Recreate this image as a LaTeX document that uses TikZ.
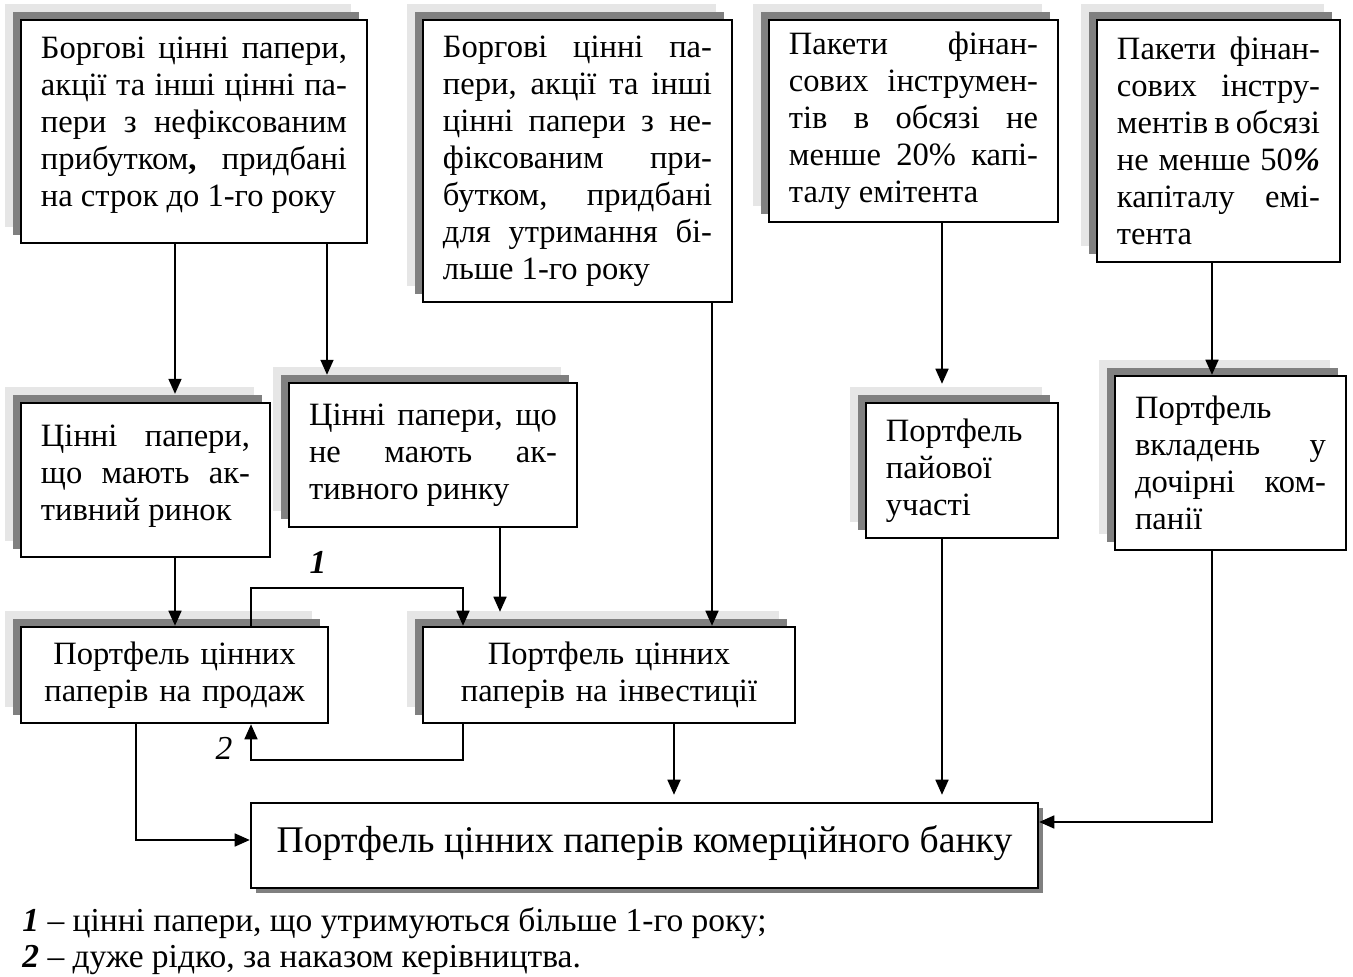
\documentclass[tikz,border=0pt]{standalone}
\usepackage{fontspec}
\setmainfont{Liberation Serif}
\usetikzlibrary{arrows.meta,shadows}
\definecolor{shadelight}{HTML}{E6E6E6}
\definecolor{shadedark}{HTML}{808080}
\tolerance=10000
\hbadness=10000
\tikzset{
  block/.style={draw, line width=1pt, fill=white, inner xsep=8.6pt, inner ysep=0pt,
    font=\fontsize{14}{15.9}\selectfont,
    general shadow={fill=shadelight, shadow xshift=-6.9pt, shadow yshift=6.9pt},
    general shadow={fill=shadedark, shadow xshift=-3.4pt, shadow yshift=3.4pt}},
  mainblock/.style={draw, line width=1pt, fill=white, inner sep=0pt,
    font=\fontsize{16.2}{18}\selectfont, minimum width=338.4pt,
    text height=21.5pt, text depth=15.05pt,
    general shadow={fill=shadedark, shadow xshift=2.15pt, shadow yshift=-2.15pt}},
  arr/.style={line width=1pt, -{Triangle[length=6.5pt,width=5.5pt]}},
  mark label/.style={font=\fontsize{14.4}{16}\selectfont},
  note/.style={anchor=base west, inner sep=0pt, font=\fontsize{14.4}{16}\selectfont}
}
\begin{document}
\begin{tikzpicture}[x=0.43pt, y=-0.43pt]
\useasboundingbox (0,0) rectangle (1353,977);

\node[block, text width=131.6pt, minimum height=95.9pt, align=justify] (debtshort) at (194,131.5)
  {Боргові цінні папери,\linebreak акції та інші цінні па-\linebreak пери з нефіксованим\linebreak прибутком\textbf{,} придбані\linebreak на строк до 1-го року\rule[-8.2pt]{0pt}{0pt}};
\node[block, text width=115.7pt, minimum height=121.3pt, align=justify] (debtlong) at (577.5,161)
  {Боргові цінні па-\linebreak пери, акції та інші\linebreak цінні папери з не-\linebreak фіксованим при-\linebreak бутком, придбані\linebreak для утримання бі-\linebreak льше 1-го року};
\node[block, text width=107.1pt, minimum height=86.9pt, align=justify] (pack20) at (913.5,121)
  {Пакети фінан-\linebreak сових інструмен-\linebreak тів в обсязі не\linebreak менше 20\% капі-\linebreak талу емітента};
\node[block, text width=87.3pt, minimum height=104.1pt, align=justify] (pack50) at (1218.5,141)
  {Пакети фінан-\linebreak сових інстру-\linebreak ментів в обсязі\linebreak не менше 50\textbf{\textit{\%}}\linebreak капіталу емі-\linebreak тента};

\node[block, text width=89.9pt, minimum height=66.2pt, align=justify] (active) at (145.5,480)
  {Цінні папери,\linebreak що мають ак-\linebreak тивний ринок\rule[-6.4pt]{0pt}{0pt}};
\node[block, text width=106.6pt, minimum height=61.9pt, align=justify] (inactive) at (433,455)
  {Цінні папери, що\linebreak не мають ак-\linebreak тивного ринку};
\node[block, text width=65.4pt, minimum height=58.1pt, align=justify] (share) at (962,470.5)
  {Портфель\\пайової\\участі};
\node[block, text width=82.1pt, minimum height=74.8pt, align=justify] (subsid) at (1230.5,463)
  {Портфель\\вкладень у\linebreak дочірні ком-\linebreak панії};

\node[block, text width=114.8pt, minimum height=41.3pt, align=center] (sale) at (174.5,675)
  {Портфель цінних\\паперів на продаж};
\node[block, text width=142.8pt, minimum height=41.3pt, align=center] (invest) at (609,675)
  {Портфель цінних\\паперів на інвестиції};

\node[mainblock] (bank) at (644.5,845.5) {Портфель цінних паперів комерційного банку};

\draw[arr, shorten >=3.4pt] (175,0 |- debtshort.south) -- (175,0 |- active.north);
\draw[arr, shorten >=3pt] (327,0 |- debtshort.south) -- (327,0 |- inactive.north);
\draw[arr] (712,0 |- debtlong.south) -- (712,0 |- invest.north);
\draw[arr, shorten >=7.7pt] (942,0 |- pack20.south) -- (942,0 |- share.north);
\draw[arr] (1212,0 |- pack50.south) -- (1212,0 |- subsid.north);
\draw[arr] (175,0 |- active.south) -- (175,0 |- sale.north);
\draw[arr, shorten >=6pt] (500,0 |- inactive.south) -- (500,0 |- invest.north);

\draw[arr] (251,0 |- sale.north) -- (251,588) -- (463,588) -- (463,0 |- invest.north);
\node[mark label, font=\fontsize{14.4}{16}\selectfont\bfseries\itshape] (one) at (318,562) {1};
\draw[arr] (463,0 |- invest.south) -- (463,760) -- (251,760) -- (251,0 |- sale.south);
\node[mark label, font=\fontsize{14.4}{16}\selectfont\itshape] (two) at (224,748) {2};

\draw[arr] (136,0 |- sale.south) -- (136,840) -- (bank.west |- 0,840);
\draw[arr, shorten >=3pt] (674,0 |- invest.south) -- (674,0 |- bank.north);
\draw[arr, shorten >=3pt] (942,0 |- share.south) -- (942,0 |- bank.north);
\draw[arr] (1212,0 |- subsid.south) -- (1212,822) -- (bank.east |- 0,822);

\node[note] (note1) at (22,931) {\textbf{\textit{1}} – цінні папери, що утримуються більше 1-го року;};
\node[note] (note2) at (22,967) {\textbf{\textit{2}} – дуже рідко, за наказом керівництва.};
\end{tikzpicture}
\end{document}
